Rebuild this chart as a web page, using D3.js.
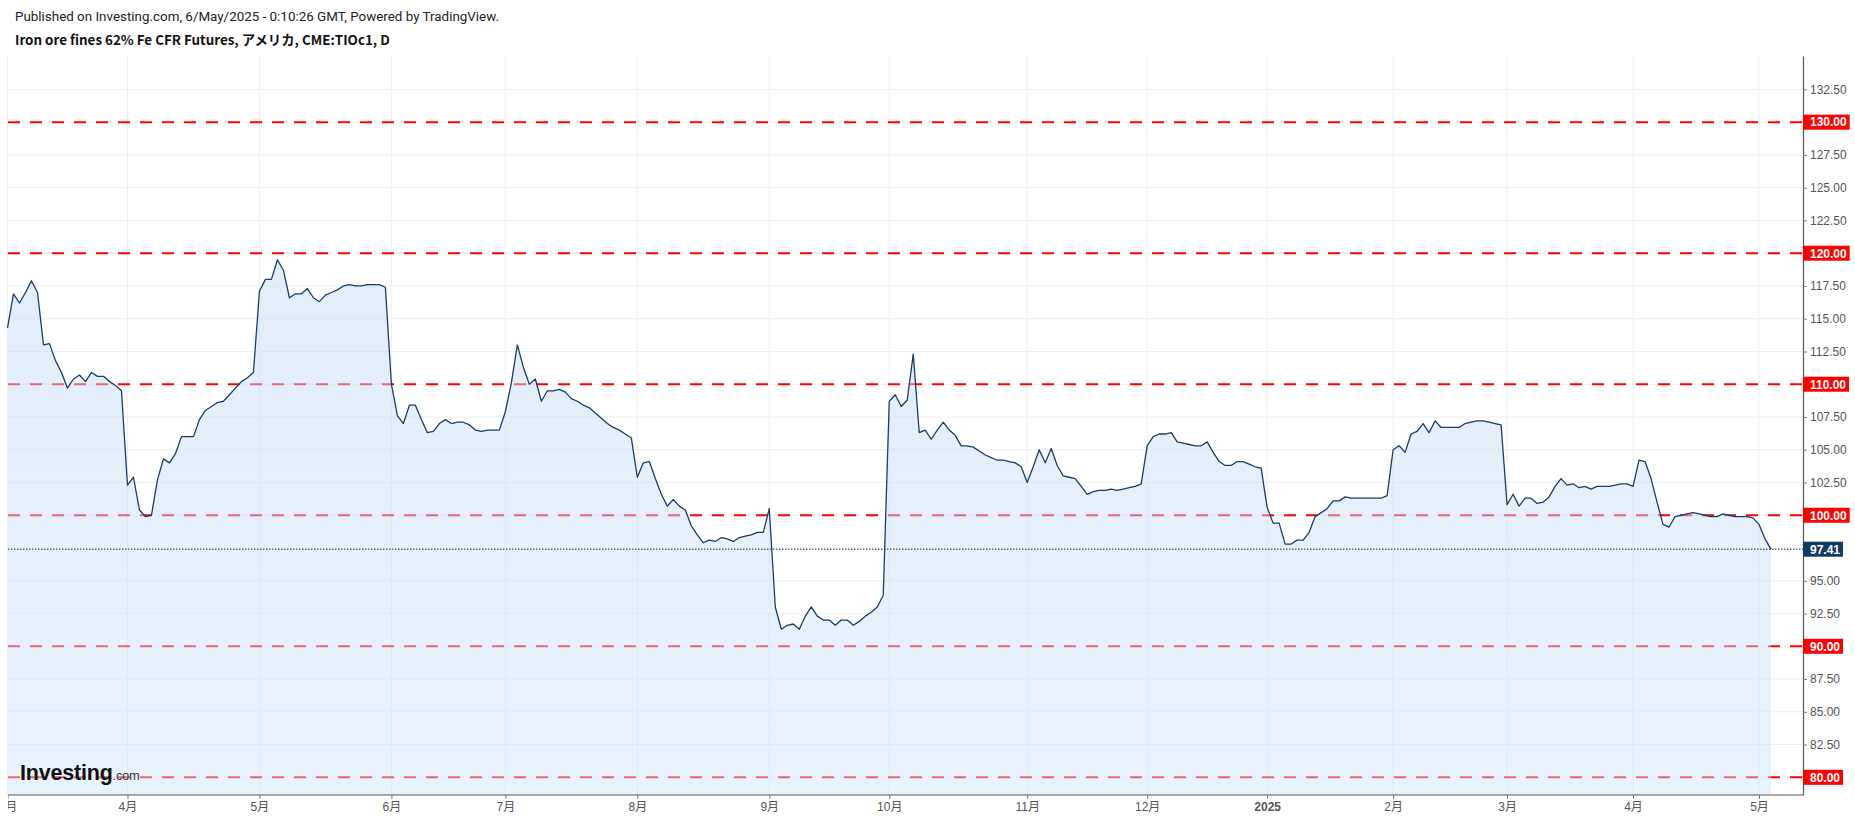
<!DOCTYPE html>
<html>
<head>
<meta charset="utf-8">
<script src="https://cdn.jsdelivr.net/npm/d3@7"></script>
<style>
  body { margin: 0; background: #fff; }
  svg { display: block; }
</style>
</head>
<body>
<div id="chart"></div>
<script>
// chart size and plot box
const svgWidth = 1855;
const svgHeight = 819;
const plotLeft = 8, plotRight = 1803, plotTop = 56, plotBottom = 795;

// trading calendar: weekdays from first to last bar, minus closed days
const startDate = "2024-03-01";
const endDate = "2025-05-05";
const holidays = ["2024-03-29", "2024-05-27", "2024-06-19", "2024-07-04", "2024-09-02",
  "2024-11-28", "2024-12-25", "2024-12-26", "2025-01-01", "2025-01-20", "2025-02-17", "2025-04-18"];

// daily closes, one per trading day
const closes = [
  114.3, 116.9, 116.2, 117.0, 117.9, 117.0, 113.0, 113.1, 111.8, 110.9,
  109.7, 110.4, 110.7, 110.2, 110.9, 110.6, 110.6, 110.2, 109.9, 109.5,
  102.3, 102.9, 100.4, 99.9, 100.0, 102.7, 104.3, 104.0, 104.7, 106.0,
  106.0, 106.0, 107.3, 108.0, 108.3, 108.6, 108.7, 109.2, 109.7, 110.2,
  110.5, 110.9, 117.1, 118.0, 118.0, 119.5, 118.7, 116.6, 116.9, 116.9,
  117.3, 116.6, 116.3, 116.8, 117.0, 117.2, 117.5, 117.6, 117.5, 117.5,
  117.6, 117.6, 117.6, 117.4, 110.0, 107.6, 107.0, 108.4, 108.4, 107.3,
  106.3, 106.4, 107.0, 107.3, 107.0, 107.1, 107.1, 106.9, 106.5, 106.4,
  106.5, 106.5, 106.5, 107.9, 110.1, 113.0, 111.3, 110.0, 110.4, 108.7,
  109.5, 109.5, 109.6, 109.4, 108.9, 108.7, 108.4, 108.2, 107.8, 107.4,
  107.0, 106.7, 106.5, 106.2, 105.9, 102.9, 104.0, 104.1, 102.8, 101.6,
  100.7, 101.2, 100.7, 100.4, 99.2, 98.5, 97.9, 98.1, 98.0, 98.3,
  98.2, 98.0, 98.3, 98.4, 98.5, 98.7, 98.7, 100.5, 93.0, 91.3,
  91.6, 91.7, 91.3, 92.3, 93.0, 92.3, 92.0, 92.0, 91.6, 92.0,
  92.0, 91.6, 91.9, 92.3, 92.6, 93.0, 93.9, 108.7, 109.2, 108.3,
  108.8, 112.3, 106.3, 106.5, 105.8, 106.5, 107.1, 106.5, 106.1, 105.3,
  105.3, 105.2, 104.9, 104.6, 104.4, 104.2, 104.2, 104.1, 104.0, 103.7,
  102.5, 103.7, 105.0, 104.0, 105.1, 103.8, 103.0, 102.9, 102.8, 102.2,
  101.6, 101.8, 101.9, 101.9, 102.0, 101.9, 102.0, 102.1, 102.2, 102.4,
  105.3, 106.0, 106.2, 106.2, 106.3, 105.6, 105.5, 105.4, 105.3, 105.3,
  105.6, 104.8, 104.1, 103.8, 103.8, 104.1, 104.1, 103.9, 103.7, 103.6,
  100.6, 99.4, 99.4, 97.8, 97.8, 98.1, 98.1, 98.7, 99.9, 100.2,
  100.5, 101.1, 101.1, 101.4, 101.3, 101.3, 101.3, 101.3, 101.3, 101.3,
  101.5, 105.0, 105.3, 104.8, 106.2, 106.4, 107.0, 106.3, 107.2, 106.7,
  106.7, 106.7, 106.7, 107.0, 107.1, 107.2, 107.2, 107.1, 107.0, 106.9,
  100.8, 101.6, 100.7, 101.3, 101.3, 100.9, 101.0, 101.4, 102.2, 102.8,
  102.3, 102.4, 102.1, 102.2, 102.0, 102.2, 102.2, 102.2, 102.3, 102.4,
  102.4, 102.2, 104.2, 104.1, 102.8, 101.0, 99.3, 99.1, 99.9, 100.0,
  100.1, 100.2, 100.1, 100.0, 99.9, 99.9, 100.1, 100.0, 99.9, 99.9,
  99.9, 99.8, 99.3, 98.2, 97.41
];

// horizontal levels drawn as red dashed lines
const levels = [80, 90, 100, 110, 120, 130];
// price axis
const gridValues = [80, 82.5, 85, 87.5, 90, 92.5, 95, 97.5, 100, 102.5, 105, 107.5,
  110, 112.5, 115, 117.5, 120, 122.5, 125, 127.5, 130, 132.5];
const yTickValues = [82.5, 85, 87.5, 92.5, 95, 102.5, 105, 107.5, 112.5, 115, 117.5,
  122.5, 125, 127.5, 132.5];
const yMin = 78.65, yMax = 135.05;

const headerLine1 = "Published on Investing.com, 6/May/2025 - 0:10:26 GMT, Powered by TradingView.";
const headerLine2 = "Iron ore fines 62% Fe CFR Futures, アメリカ, CME:TIOc1, D";

// build the calendar
const parseDay = d3.utcParse("%Y-%m-%d");
const fmtDay = d3.utcFormat("%Y-%m-%d");
const days = d3.utcDay.range(parseDay(startDate), d3.utcDay.offset(parseDay(endDate), 1))
  .filter(d => d.getUTCDay() % 6 !== 0 && !holidays.includes(fmtDay(d)))
  .map(fmtDay);
const data = days.map((d, i) => ({ day: d, close: closes[i] }));
const lastPrice = closes[closes.length - 1];

// first trading day of each month -> axis ticks
const monthStarts = days.filter((d, i) => i === 0 || d.slice(0, 7) !== days[i - 1].slice(0, 7));

const x = d3.scalePoint()
  .domain(days)
  .range([7.5, 1771]);

const y = d3.scaleLinear()
  .domain([yMin, yMax])
  .range([plotBottom, plotTop]);

const svg = d3.select("#chart")
  .append("svg")
  .attr("width", svgWidth)
  .attr("height", svgHeight)
  .style("font-family", "'Liberation Sans', Arial, 'Noto Sans CJK JP', sans-serif");

const defs = svg.append("defs");
const grad = defs.append("linearGradient")
  .attr("id", "areaFill")
  .attr("gradientUnits", "userSpaceOnUse")
  .attr("x1", 0).attr("y1", plotTop)
  .attr("x2", 0).attr("y2", plotBottom);
grad.append("stop").attr("offset", "0%").attr("stop-color", "rgb(190,214,240)").attr("stop-opacity", 0.5);
grad.append("stop").attr("offset", "100%").attr("stop-color", "rgb(205,228,251)").attr("stop-opacity", 0.45);

defs.append("clipPath").attr("id", "xClip")
  .append("rect")
  .attr("x", plotLeft).attr("y", 0)
  .attr("width", svgWidth - plotLeft).attr("height", svgHeight);

// header
svg.append("text")
  .attr("x", 15)
  .attr("y", 21)
  .style("font-family", "Roboto, 'Liberation Sans', sans-serif")
  .style("font-size", "13.4px")
  .attr("fill", "#222")
  .text(headerLine1);

svg.append("text")
  .attr("x", 15)
  .attr("y", 45)
  .style("font-family", "'Noto Sans CJK JP', sans-serif")
  .style("font-size", "13.4px")
  .style("font-weight", "bold")
  .attr("fill", "#111")
  .text(headerLine2);

// grid
svg.append("g")
  .selectAll("line")
  .data(gridValues)
  .join("line")
  .attr("x1", plotLeft)
  .attr("x2", plotRight)
  .attr("y1", d => y(d))
  .attr("y2", d => y(d))
  .attr("stroke", "#efefef")
  .attr("stroke-width", 1);

svg.append("g")
  .selectAll("line")
  .data(monthStarts)
  .join("line")
  .attr("x1", d => x(d))
  .attr("x2", d => x(d))
  .attr("y1", plotTop)
  .attr("y2", plotBottom)
  .attr("stroke", "#f0f0f0")
  .attr("stroke-width", 1);

// red level lines (under the area so they show pink through the fill)
svg.append("g")
  .selectAll("line")
  .data(levels)
  .join("line")
  .attr("x1", plotLeft)
  .attr("x2", plotRight)
  .attr("y1", d => y(d))
  .attr("y2", d => y(d))
  .attr("stroke", "#ff0000")
  .attr("stroke-width", 2)
  .attr("stroke-dasharray", "12,10");

// area + line
const area = d3.area()
  .x(d => x(d.day))
  .y0(plotBottom)
  .y1(d => y(d.close));

svg.append("path")
  .datum(data)
  .attr("d", area)
  .attr("fill", "url(#areaFill)");

const line = d3.line()
  .x(d => x(d.day))
  .y(d => y(d.close));

svg.append("path")
  .datum(data)
  .attr("d", line)
  .attr("fill", "none")
  .attr("stroke", "#1a3c68")
  .attr("stroke-width", 1.3)
  .attr("stroke-linejoin", "round");

// last price dotted line
svg.append("line")
  .attr("x1", plotLeft)
  .attr("x2", plotRight)
  .attr("y1", y(lastPrice))
  .attr("y2", y(lastPrice))
  .attr("stroke", "#0d2f5a")
  .attr("stroke-width", 1)
  .attr("stroke-dasharray", "1.5,1.5");

// logo
const logo = svg.append("text")
  .attr("x", 20)
  .attr("y", 780);
logo.append("tspan")
  .style("font-size", "21.5px")
  .style("font-weight", "bold")
  .style("letter-spacing", "-0.2px")
  .attr("fill", "#111")
  .text("Investing");
logo.append("tspan")
  .style("font-size", "12.5px")
  .attr("fill", "#333")
  .text(".com");

// price axis (right)
const yAxis = svg.append("g")
  .attr("transform", `translate(${plotRight},0)`)
  .call(d3.axisRight(y)
    .tickValues(yTickValues)
    .tickFormat(d3.format(".2f"))
    .tickSize(4)
    .tickSizeOuter(0)
    .tickPadding(3));
yAxis.select(".domain").attr("stroke", "#555").attr("stroke-width", 1.2);
yAxis.selectAll(".tick line").attr("stroke", "#777");
yAxis.selectAll(".tick text")
  .attr("fill", "#555")
  .style("font-size", "12px")
  .style("font-family", "'Liberation Sans', Arial, sans-serif");

// time axis (bottom)
const xAxis = svg.append("g")
  .attr("clip-path", "url(#xClip)")
  .append("g")
  .attr("transform", `translate(0,${plotBottom})`)
  .call(d3.axisBottom(x)
    .tickValues(monthStarts)
    .tickFormat(d => d.slice(5, 7) === "01" ? d.slice(0, 4) : (+d.slice(5, 7)) + "月")
    .tickSize(4)
    .tickSizeOuter(0)
    .tickPadding(3));
xAxis.select(".domain").remove();
xAxis.selectAll(".tick line").attr("stroke", "#777");
xAxis.selectAll(".tick text")
  .attr("fill", "#555")
  .style("font-size", "12px")
  .style("font-family", "'Liberation Sans', Arial, 'Noto Sans CJK JP', sans-serif")
  .style("font-weight", d => d.slice(5, 7) === "01" ? "bold" : "normal");

svg.append("line")
  .attr("x1", plotLeft)
  .attr("x2", plotRight)
  .attr("y1", plotBottom)
  .attr("y2", plotBottom)
  .attr("stroke", "#555")
  .attr("stroke-width", 1.2);

// price tags on the right axis
function priceTag(value, bg) {
  const g = svg.append("g");
  const rect = g.append("rect")
    .attr("x", plotRight)
    .attr("y", y(value) - 7.5)
    .attr("height", 15)
    .attr("fill", bg);
  const t = g.append("text")
    .attr("x", plotRight + 7)
    .attr("y", y(value))
    .attr("dy", "0.36em")
    .attr("fill", "#fff")
    .style("font-size", "12px")
    .style("font-weight", "bold")
    .text(d3.format(".2f")(value));
  rect.attr("width", t.node().getComputedTextLength() + 10);
}

levels.forEach(v => priceTag(v, "#ff0000"));
priceTag(lastPrice, "#113a66");
</script>
</body>
</html>
